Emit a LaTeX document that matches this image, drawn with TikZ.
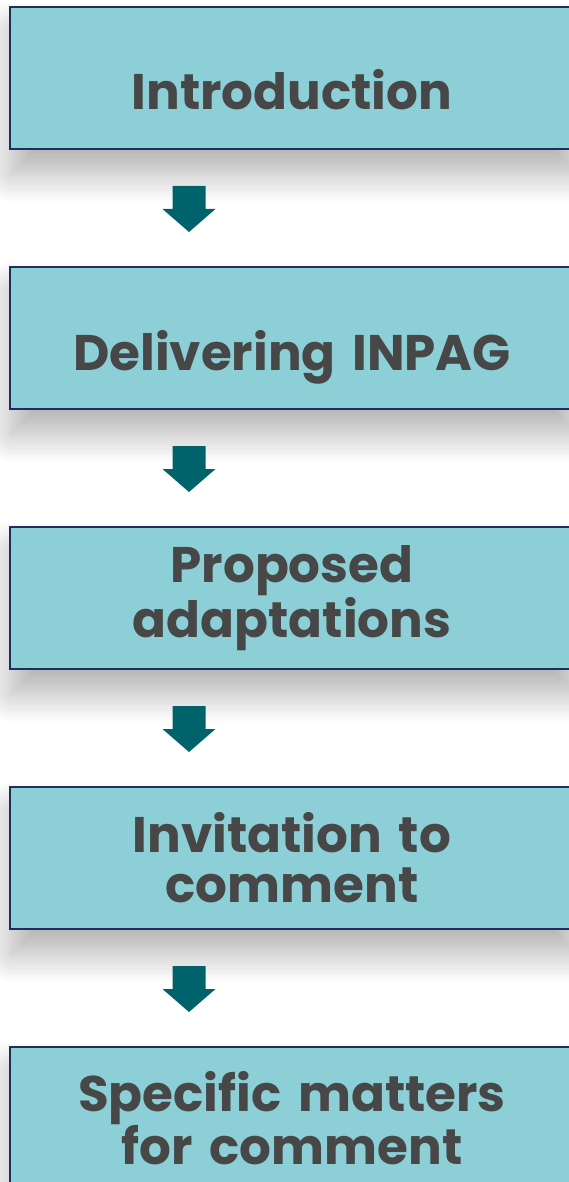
\documentclass[tikz,border=0pt]{standalone}
\usepackage{fontspec}
\setmainfont{Poppins}[Ligatures=CommonOff]
\usetikzlibrary{shadows.blur}

\definecolor{boxfill}{HTML}{8CCFD7}
\definecolor{boxline}{HTML}{1F2D5A}
\definecolor{labeltext}{HTML}{474747}
\definecolor{arrowfill}{HTML}{00626B}

\tikzset{
  stagebox/.style={draw=boxline, line width=2pt, fill=boxfill,
    minimum width=564pt, minimum height=142pt, text width=540pt,
    align=center, text=labeltext,
    font=\bfseries\fontsize{50}{50}\selectfont,
    blur shadow={shadow xshift=2pt, shadow yshift=-24pt,
      shadow blur radius=30pt, shadow blur steps=24, shadow opacity=32}},
  oneline/.style={text height=64pt, text depth=0pt},
  flowarrow/.style={fill=arrowfill}
}

\begin{document}
\begin{tikzpicture}[x=1pt,y=-1pt]
\useasboundingbox (0,0) rectangle (568,1182);

% the five stages
\node[stagebox,oneline] (intro) at (292,78) {Introduction};
\node[stagebox,oneline] (deliver) at (292,338) {Delivering INPAG};
\node[stagebox] (adapt) at (292,598) {Proposed\\adaptations};
\node[stagebox] (invite) at (292,858) {Invitation to\\comment};
\node[stagebox] (matters) at (292,1118) {Specific matters\\for comment};

% block arrows between them
\foreach \src in {intro,deliver,adapt,invite}{
  \path (\src.south west) ++(180,36) coordinate (top);
  \fill[flowarrow] (top) ++(-16.5,0) -- ++(33,0) -- ++(0,23) -- ++(10,0)
    -- ++(-26.5,23) -- ++(-26.5,-23) -- ++(10,0) -- cycle;
}
\end{tikzpicture}
\end{document}
